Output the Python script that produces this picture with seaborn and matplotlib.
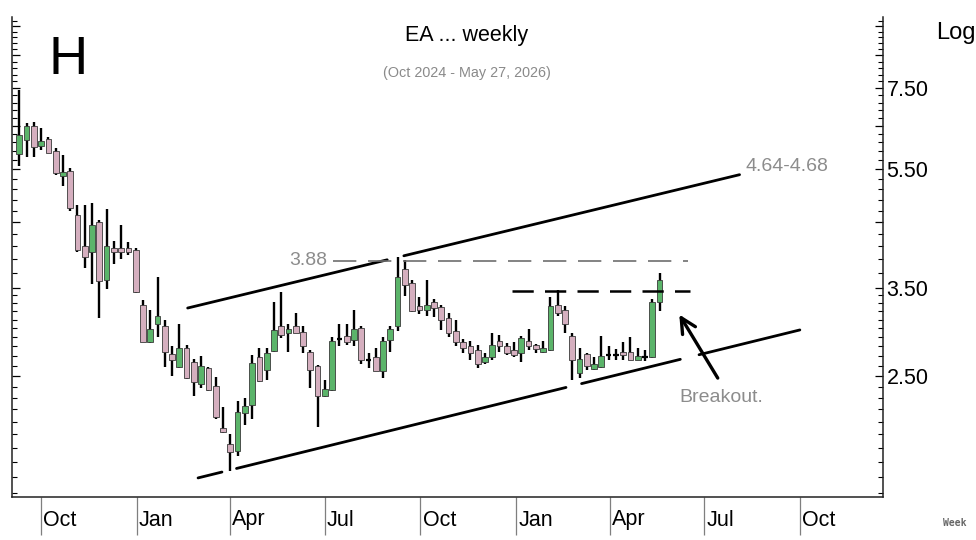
import numpy as np
import pandas as pd
import matplotlib
matplotlib.use("Agg")
import matplotlib.pyplot as plt
import matplotlib.dates as mdates
from matplotlib import font_manager
from matplotlib.ticker import FixedLocator, FuncFormatter
from matplotlib.transforms import ScaledTranslation
import seaborn as sns

# ---------------- data (weekly OHLC) ----------------
first_week = "2024-09-10"
opens = [5.83, 6.15, 6.50, 6.01, 6.18, 5.90, 5.37, 5.47, 4.63, 4.10,
         4.02, 4.50, 3.60, 4.08, 4.08, 4.07, 4.04, 3.28, 2.85, 3.05,
         3.03, 2.72, 2.59, 2.78, 2.64, 2.42, 2.58, 2.41, 2.05, 1.93,
         1.88, 2.17, 2.24, 2.69, 2.56, 2.75, 3.02, 2.95, 3.02, 2.96,
         2.74, 2.60, 2.32, 2.37, 2.88, 2.91, 2.87, 3.00, 2.66, 2.69,
         2.55, 2.87, 3.03, 3.76, 3.57, 3.27, 3.22, 3.32, 3.25, 3.12,
         2.97, 2.85, 2.80, 2.76, 2.64, 2.69, 2.86, 2.80, 2.76, 2.73,
         2.86, 2.81, 2.74, 2.76, 3.28, 3.22, 2.91, 2.53, 2.72, 2.57,
         2.59, 2.71, 2.71, 2.74, 2.74, 2.66, 2.69, 2.69, 3.32]
highs = [7.45, 6.57, 6.60, 6.45, 6.22, 5.96, 5.80, 5.52, 4.80, 4.80,
         4.84, 4.53, 4.72, 4.19, 4.44, 4.17, 4.07, 3.34, 3.21, 3.65,
         3.10, 2.80, 3.05, 2.81, 2.67, 2.70, 2.59, 2.49, 2.22, 2.00,
         2.27, 2.30, 2.71, 2.78, 2.78, 3.31, 3.45, 3.05, 3.18, 3.02,
         2.76, 2.61, 2.46, 2.90, 3.05, 3.05, 3.21, 3.02, 2.73, 2.78,
         2.90, 3.03, 3.94, 3.89, 3.61, 3.38, 3.60, 3.35, 3.28, 3.18,
         3.10, 2.88, 2.86, 2.81, 2.73, 2.94, 2.92, 2.84, 2.85, 2.91,
         2.99, 2.82, 2.86, 3.38, 3.47, 3.26, 2.95, 2.78, 2.73, 2.69,
         2.91, 2.80, 2.77, 2.85, 2.90, 2.78, 2.76, 3.36, 3.71]
lows = [5.57, 5.77, 5.77, 5.92, 5.85, 5.38, 5.17, 4.69, 4.02, 3.77,
        3.55, 3.12, 3.48, 3.84, 3.91, 3.97, 3.43, 2.85, 2.84, 2.90,
        2.59, 2.50, 2.58, 2.47, 2.32, 2.39, 2.36, 2.12, 2.01, 1.74,
        1.84, 2.07, 2.12, 2.44, 2.46, 2.74, 2.89, 2.74, 2.94, 2.73,
        2.39, 2.06, 2.31, 2.36, 2.80, 2.81, 2.80, 2.62, 2.58, 2.55,
        2.48, 2.74, 2.97, 3.39, 3.19, 3.17, 3.14, 3.13, 2.98, 2.90,
        2.80, 2.73, 2.66, 2.58, 2.62, 2.66, 2.74, 2.71, 2.69, 2.64,
        2.76, 2.73, 2.73, 2.75, 3.14, 2.95, 2.46, 2.48, 2.56, 2.56,
        2.58, 2.66, 2.66, 2.66, 2.66, 2.66, 2.65, 2.68, 3.20]
closes = [6.27, 6.50, 6.00, 6.12, 5.86, 5.43, 5.45, 4.75, 4.04, 3.93,
          4.45, 3.59, 4.10, 4.02, 4.02, 4.01, 3.44, 2.85, 2.99, 3.14,
          2.74, 2.66, 2.78, 2.48, 2.44, 2.60, 2.37, 2.14, 2.02, 1.87,
          2.18, 2.23, 2.63, 2.45, 2.73, 2.98, 2.92, 2.99, 2.95, 2.80,
          2.56, 2.32, 2.38, 2.86, 2.88, 2.85, 2.99, 2.66, 2.66, 2.55,
          2.86, 2.99, 3.65, 3.54, 3.20, 3.22, 3.28, 3.24, 3.10, 2.95,
          2.85, 2.78, 2.73, 2.62, 2.69, 2.81, 2.80, 2.73, 2.71, 2.89,
          2.80, 2.77, 2.78, 3.27, 3.18, 3.05, 2.66, 2.67, 2.60, 2.62,
          2.70, 2.71, 2.71, 2.71, 2.66, 2.70, 2.69, 3.32, 3.61]

x_tick_dates = ["2024-10-01", "2025-01-01", "2025-04-01", "2025-07-01", "2025-10-01",
                "2026-01-01", "2026-04-01", "2026-07-01", "2026-10-01"]
x_tick_labels = ["Oct", "Jan", "Apr", "Jul", "Oct", "Jan", "Apr", "Jul", "Oct"]
y_major_values = [2.5, 3.5, 4.5, 5.5, 6.5, 7.5, 8.5, 9.5]
y_labelled = {2.5: "2.50", 3.5: "3.50", 5.5: "5.50", 7.5: "7.50"}

# channel lines (anchors: date, price) and their drawn pieces
upper_anchor_dates = ["2025-02-19", "2026-08-04"]
upper_anchor_prices = [3.24, 5.39]
upper_pieces = [("2025-02-19", "2025-08-30"), ("2025-09-15", "2026-08-04")]
lower_anchor_dates = ["2025-03-01", "2026-10-01"]
lower_anchor_prices = [1.694, 2.98]
lower_pieces = [("2025-03-01", "2025-03-24"), ("2025-04-07", "2026-02-18"),
                ("2026-03-05", "2026-06-08"), ("2026-06-26", "2026-10-01")]
level_388 = 3.88
level_388_span = ("2025-07-09", "2026-06-15")
level_break = 3.46
level_break_span = ("2025-12-28", "2026-06-17")

# ---------------- style ----------------
sns.set_theme(style="white")
names = {f.name for f in font_manager.fontManager.ttflist}
base = "Liberation Sans" if "Liberation Sans" in names else "DejaVu Sans"
narrow = "Liberation Sans Narrow" if "Liberation Sans Narrow" in names else None
plt.rcParams["font.family"] = [base, "DejaVu Sans"]
tick_family = [narrow, "DejaVu Sans"] if narrow else [base, "DejaVu Sans"]
tick_size = 18 if narrow else 15.5

W, H = 976, 540
fig = plt.figure(figsize=(W / 100, H / 100), dpi=100)
fig.patch.set_facecolor("white")
ax = fig.add_axes([12 / W, 43 / H, 871 / W, 480 / H])
ax.set_facecolor("white")
ax.set_yscale("log")

df = pd.DataFrame({"date": pd.date_range(first_week, periods=len(opens), freq="7D"),
                   "open": opens, "high": highs, "low": lows, "close": closes})
x = mdates.date2num(df["date"])
o, h, l, c = df["open"].values, df["high"].values, df["low"].values, df["close"].values

green = "#5bb46a"
pink = "#d5afbf"
body_w = 5.5

ax.vlines(x, l, h, color="black", lw=1.7, zorder=2)
doji = np.abs(c - o) < 0.006
up = (c > o) & ~doji
down = (c < o) & ~doji
for mask, col in ((up, green), (down, pink)):
    bot = np.minimum(o, c)[mask]
    top = np.maximum(o, c)[mask]
    ax.bar(x[mask], top - bot, bottom=bot, width=body_w, color=col,
           edgecolor="#3a3a3a", linewidth=0.6, zorder=3, align="center")
ax.hlines(c[doji], x[doji] - body_w / 2, x[doji] + body_w / 2, color="black", lw=1.6, zorder=3)


def line_price(d, anchor_dates, anchor_prices):
    ad = mdates.date2num(pd.to_datetime(anchor_dates))
    t = (mdates.date2num(pd.Timestamp(d)) - ad[0]) / (ad[1] - ad[0])
    return float(np.exp(np.log(anchor_prices[0]) + t * (np.log(anchor_prices[1]) - np.log(anchor_prices[0]))))


for pieces, ad, ap in ((upper_pieces, upper_anchor_dates, upper_anchor_prices),
                       (lower_pieces, lower_anchor_dates, lower_anchor_prices)):
    for d0, d1 in pieces:
        xs = mdates.date2num(pd.to_datetime([d0, d1]))
        ys = [line_price(d0, ad, ap), line_price(d1, ad, ap)]
        sns.lineplot(x=xs, y=ys, ax=ax, color="black", lw=2.0, zorder=4)

xs = mdates.date2num(pd.to_datetime(list(level_388_span)))
ax.plot(xs, [level_388, level_388], color="#6e6e6e", lw=1.2,
        linestyle=(0, (14, 7)), zorder=4)
xs = mdates.date2num(pd.to_datetime(list(level_break_span)))
ax.plot(xs, [level_break, level_break], color="black", lw=1.8,
        linestyle=(0, (8.5, 4.5)), zorder=4)

gray_txt = "#8c8c8c"
ax.text(mdates.date2num(pd.Timestamp("2025-07-03")), level_388, "3.88", ha="right",
        va="center", fontsize=14, color=gray_txt)
ax.text(mdates.date2num(pd.Timestamp("2026-08-10")), 5.57, "4.64-4.68", ha="left",
        va="center", fontsize=14, color=gray_txt)
ax.text(mdates.date2num(pd.Timestamp("2026-07-17")), 2.30, "Breakout.", ha="center",
        va="center", fontsize=14, color=gray_txt)
ax.annotate("", xy=(mdates.date2num(pd.Timestamp("2026-06-07")), 3.16),
            xytext=(mdates.date2num(pd.Timestamp("2026-07-14")), 2.48),
            arrowprops=dict(arrowstyle="->,head_length=0.9,head_width=0.45",
                            lw=2.4, color="black", shrinkA=0, shrinkB=0), zorder=5)

# ---------------- axes ----------------
ax.set_xlim(mdates.date2num(pd.Timestamp("2024-09-03")), mdates.date2num(pd.Timestamp("2026-12-20")))
ax.set_ylim(1.575, 9.84)

ax.set_xticks(mdates.date2num(pd.to_datetime(x_tick_dates)))
ax.set_xticklabels(x_tick_labels, ha="left", fontsize=tick_size, family=tick_family)
ax.tick_params(axis="x", which="major", direction="out", length=27, width=0.9,
               color="#7f7f7f", pad=-18, bottom=True, labelcolor="black")
for lab in ax.get_xticklabels():
    lab.set_transform(lab.get_transform() + ScaledTranslation(1.5 / 72, 0, fig.dpi_scale_trans))

minor_vals = [round(v, 2) for v in np.arange(1.6, 3.5, 0.1)] + \
             [round(v, 2) for v in np.arange(3.7, 9.8, 0.2)]
minor_vals = [v for v in minor_vals if all(abs(v - m) > 1e-6 for m in y_major_values)]
ax.yaxis.set_major_locator(FixedLocator(y_major_values))
ax.yaxis.set_minor_locator(FixedLocator(minor_vals))
ax.yaxis.set_major_formatter(FuncFormatter(lambda v, p: y_labelled.get(round(v, 2), "")))
ax.yaxis.set_minor_formatter(FuncFormatter(lambda v, p: ""))
ax.tick_params(axis="y", which="both", direction="in", left=True, right=True,
               labelleft=False, labelright=True, color="black", labelcolor="black")
ax.tick_params(axis="y", which="major", length=6, width=0.9, pad=2.5, labelsize=tick_size)
ax.tick_params(axis="y", which="minor", length=3.5, width=0.8)
for lab in ax.get_yticklabels():
    lab.set_family(tick_family)

for side in ("left", "right", "bottom"):
    ax.spines[side].set_visible(True)
    ax.spines[side].set_color("#222222")
    ax.spines[side].set_linewidth(1.1)
ax.spines["top"].set_visible(False)
ax.grid(False)
ax.set_xlabel("")
ax.set_ylabel("")

# ---------------- figure texts ----------------
fig.text(467 / W, 1 - 35 / H, "EA ... weekly", ha="center", va="center", fontsize=15.5, color="black")
fig.text(467 / W, 1 - 73 / H, "(Oct 2024 - May 27, 2026)", ha="center", va="center",
         fontsize=10.4, color="#8a8a8a")
fig.text(68 / W, 1 - 60 / H, "H", ha="center", va="center", fontsize=39, color="black")
fig.text(936 / W, 1 - 33 / H, "Log", ha="left", va="center", fontsize=17, color="black")
fig.text(955 / W, 1 - 523 / H, "Week", ha="center", va="center", fontsize=7,
         family=["DejaVu Sans Mono"], fontweight="bold", color="#666666")

fig.savefig("out.png", dpi=100, facecolor="white")
